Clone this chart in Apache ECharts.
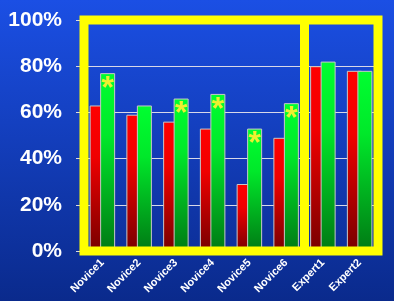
<!DOCTYPE html>
<html>
<head>
<meta charset="utf-8">
<script src="https://cdn.jsdelivr.net/npm/echarts@6/dist/echarts.min.js"></script>
<style>html,body{margin:0;padding:0;}#c{width:394px;height:301px;}</style>
</head>
<body>
<div id="c"></div>
<script>
const categories = ['Novice1','Novice2','Novice3','Novice4','Novice5','Novice6','Expert1','Expert2'];
const redValues = [63, 59, 56, 53, 29, 49, 80, 78];
const greenValues = [77, 63, 66, 68, 53, 64, 82, 78];
const starred = [true, false, true, true, true, true, false, false];
const yTicks = [0, 20, 40, 60, 80, 100];
const noviceCount = 6; // divider sits after the novice categories

const chart = echarts.init(document.getElementById('c'));
const grad = (top, mid, bottom) => ({
  type: 'linear', x: 0, y: 0, x2: 0, y2: 1,
  colorStops: [{offset: 0, color: top}, {offset: 0.35, color: mid}, {offset: 1, color: bottom}]
});
const font = 'Liberation Sans, Arial, sans-serif';
chart.setOption({
  animation: false,
  backgroundColor: {type: 'linear', x: 0, y: 0, x2: 0, y2: 1,
    colorStops: [{offset: 0, color: '#1b4fe4'}, {offset: 1, color: '#0a2a8c'}]},
  grid: {left: 84, right: 16, top: 20, bottom: 50, show: true, z: 10,
    borderColor: '#ffff00', borderWidth: 9, backgroundColor: 'transparent'},
  xAxis: [{
    type: 'category', data: categories,
    axisLine: {show: false}, axisTick: {show: false},
    axisLabel: {show: true, interval: 0, rotate: 45, margin: 10, color: '#ffffff', fontSize: 11,
      fontWeight: 'bold', fontFamily: font}
  }, {
    type: 'value', min: 0, max: categories.length, show: false
  }],
  yAxis: {
    type: 'value', min: 0, max: 100, interval: 20,
    axisLine: {show: false},
    axisTick: {show: true, length: 8, lineStyle: {color: '#dddddd'}},
    splitLine: {show: true, lineStyle: {color: '#d8d8e8', width: 1}},
    axisLabel: {margin: 22, color: '#ffffff', fontSize: 21, fontWeight: 'bold', fontFamily: font,
      formatter: (v) => yTicks.includes(v) ? v + '%' : ''}
  },
  series: [
    {type: 'bar', data: redValues, barWidth: 15, barGap: '-30%',
      itemStyle: {color: grad('#ff0000', '#f00000', '#780000'), borderColor: '#c8c8c8', borderWidth: 1}},
    {type: 'bar', data: greenValues, barWidth: 15,
      itemStyle: {color: grad('#00ff30', '#00e82a', '#007a14'), borderColor: '#c8c8c8', borderWidth: 1},
      label: {show: true, position: 'insideTop', distance: 0, fontSize: 32, fontWeight: 'bold',
        color: '#eef030', fontFamily: font,
        formatter: (p) => starred[p.dataIndex] ? '*' : ''}},
    {type: 'line', xAxisIndex: 1, data: [], silent: true,
      markLine: {silent: true, symbol: 'none', z: 10, label: {show: false},
        lineStyle: {color: '#ffff00', width: 9, type: 'solid'},
        data: [{xAxis: noviceCount}]}}
  ]
});
</script>
</body>
</html>
